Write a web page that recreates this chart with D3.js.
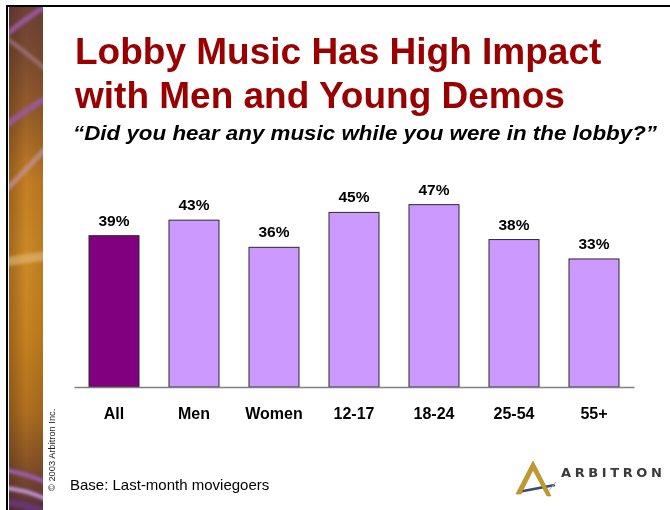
<!DOCTYPE html>
<html>
<head>
<meta charset="utf-8">
<script src="https://cdn.jsdelivr.net/npm/d3@7/dist/d3.min.js"></script>
<style>
  html, body { margin: 0; padding: 0; background: #fff; }
  svg { display: block; font-family: "Liberation Sans", Arial, sans-serif; }
</style>
</head>
<body>
<svg id="chart" width="670" height="510"></svg>
<script>
// Share of moviegoers who heard music in the lobby, by demographic
const categories = ["All", "Men", "Women", "12-17", "18-24", "25-54", "55+"];
const values = [39, 43, 36, 45, 47, 38, 33];
const valueLabels = ["39%", "43%", "36%", "45%", "47%", "38%", "33%"];
const titleLines = ["Lobby Music Has High Impact", "with Men and Young Demos"];
const subtitle = "\u201cDid you hear any music while you were in the lobby?\u201d";
const baseNote = "Base: Last-month moviegoers";
const copyright = "\u00a9 2003 Arbitron Inc.";

const svg = d3.select("#chart");
const defs = svg.append("defs");

// Decorative slide strip on the left
const grad = defs.append("linearGradient")
  .attr("id", "stripGrad").attr("x1", 0).attr("y1", 0).attr("x2", 0).attr("y2", 1);
[[0, "#6e4236"], [0.1, "#7c4c30"], [0.22, "#9a6028"], [0.35, "#c47f22"],
 [0.5, "#cc8a26"], [0.65, "#c6821e"], [0.8, "#b0701e"], [0.9, "#8a5626"], [1, "#5a3040"]]
  .forEach(([o, c]) => grad.append("stop").attr("offset", o).attr("stop-color", c));
const hgrad = defs.append("linearGradient")
  .attr("id", "stripShade").attr("x1", 0).attr("y1", 0).attr("x2", 1).attr("y2", 0);
hgrad.append("stop").attr("offset", 0).attr("stop-color", "#3a1a10").attr("stop-opacity", 0.3);
hgrad.append("stop").attr("offset", 0.5).attr("stop-color", "#3a1a10").attr("stop-opacity", 0);
hgrad.append("stop").attr("offset", 1).attr("stop-color", "#3a1a10").attr("stop-opacity", 0.12);
defs.append("clipPath").attr("id", "stripClip")
  .append("rect").attr("x", 9).attr("y", 7).attr("width", 34).attr("height", 503);
defs.append("filter").attr("id", "soft")
  .append("feGaussianBlur").attr("stdDeviation", 1.5);

const strip = svg.append("g").attr("clip-path", "url(#stripClip)");
strip.append("rect").attr("x", 9).attr("y", 7).attr("width", 34).attr("height", 503)
  .attr("fill", "url(#stripGrad)");
strip.append("rect").attr("x", 9).attr("y", 7).attr("width", 34).attr("height", 503)
  .attr("fill", "url(#stripShade)");
const streaks = strip.append("g").attr("filter", "url(#soft)").attr("fill", "none");
[
  ["M6,35 Q26,18 46,6", "#9a5aa8", 5, 0.9],
  ["M6,38 Q26,52 46,70", "#b888a0", 4, 0.55],
  ["M6,125 Q26,110 46,98", "#9a5aa8", 6, 0.85],
  ["M6,190 Q26,170 46,148", "#c898b0", 5, 0.65],
  ["M6,262 Q26,258 46,256", "#e8c080", 9, 0.55],
  ["M6,470 Q26,474 46,482", "#a060c8", 4, 0.9],
  ["M6,488 Q26,490 46,499", "#c8a0e8", 4, 0.9],
  ["M6,502 Q26,505 46,512", "#6a3a80", 6, 0.8]
].forEach(([d, c, w, o]) =>
  streaks.append("path").attr("d", d).attr("stroke", c).attr("stroke-width", w).attr("opacity", o));

// Slide frame: top and left rules
svg.append("line").attr("x1", 6).attr("x2", 670).attr("y1", 6).attr("y2", 6)
  .attr("stroke", "#000").attr("stroke-width", 2);
svg.append("line").attr("x1", 7).attr("x2", 7).attr("y1", 5).attr("y2", 510)
  .attr("stroke", "#000").attr("stroke-width", 2);

// Title and question
svg.append("g").selectAll("text").data(titleLines).join("text")
  .attr("x", 75).attr("y", (d, i) => 64 + i * 43.5)
  .attr("fill", "#990000").attr("font-size", 37).attr("font-weight", "bold")
  .text(d => d);
svg.append("text").attr("x", 73).attr("y", 140)
  .attr("font-size", 20).attr("font-weight", "bold").attr("font-style", "italic")
  .attr("textLength", 584).attr("lengthAdjust", "spacingAndGlyphs")
  .attr("fill", "#000").text(subtitle);

// Scales
const x = d3.scaleBand().domain(categories).range([74, 634]).paddingInner(0.375).paddingOuter(0.1875);
const y = d3.scaleLinear().domain([0, 100]).range([387, -1]);

// Bars
svg.append("g").selectAll("rect").data(categories).join("rect")
  .attr("x", d => x(d)).attr("width", x.bandwidth())
  .attr("y", (d, i) => y(values[i])).attr("height", (d, i) => y(0) - y(values[i]))
  .attr("fill", (d, i) => i === 0 ? "#800080" : "#cc99ff")
  .attr("stroke", "#2a2a2a").attr("stroke-width", 1);

// Value labels
svg.append("g").selectAll("text").data(categories).join("text")
  .attr("x", d => x(d) + x.bandwidth() / 2)
  .attr("y", (d, i) => y(values[i]) - 10)
  .attr("text-anchor", "middle").attr("font-size", 15.5).attr("font-weight", "bold")
  .attr("fill", "#000").text((d, i) => valueLabels[i]);

// Category axis
const axis = svg.append("g").attr("transform", `translate(0,${y(0)})`)
  .call(d3.axisBottom(x).tickSize(0).tickPadding(0));
axis.select(".domain").attr("stroke", "#808080").attr("stroke-width", 1.5);
axis.selectAll(".tick text")
  .attr("dy", 0).attr("y", 32)
  .attr("font-family", "Liberation Sans, Arial, sans-serif")
  .attr("font-size", 16).attr("font-weight", "bold").attr("fill", "#000");

// Footnotes
svg.append("text").attr("x", 70).attr("y", 490)
  .attr("font-size", 15).attr("fill", "#000").text(baseNote);
svg.append("text").attr("transform", "translate(55,491) rotate(-90)")
  .attr("font-size", 9.3).attr("fill", "#222").text(copyright);

// Logo mark and wordmark
const logo = svg.append("g");
logo.append("path").attr("d", "M518,492 L555,485").attr("stroke", "#3a4a6a")
  .attr("stroke-width", 2.5).attr("fill", "none");
logo.append("path").attr("d", "M556,482 L546,494").attr("stroke", "#b0b8c8")
  .attr("stroke-width", 1).attr("fill", "none");
logo.append("path").attr("d", "M516,494 L533,461 L551,496 L547,496 L533,470 L521,494 Z")
  .attr("fill", "#c09a30").attr("stroke", "#a88020").attr("stroke-width", 0.6);
logo.append("text").attr("x", 561).attr("y", 477)
  .attr("font-family", "DejaVu Sans, sans-serif").attr("font-weight", "bold")
  .attr("font-size", 13).attr("letter-spacing", 3.6).attr("fill", "#3a3a3a")
  .text("ARBITRON");
</script>
</body>
</html>
